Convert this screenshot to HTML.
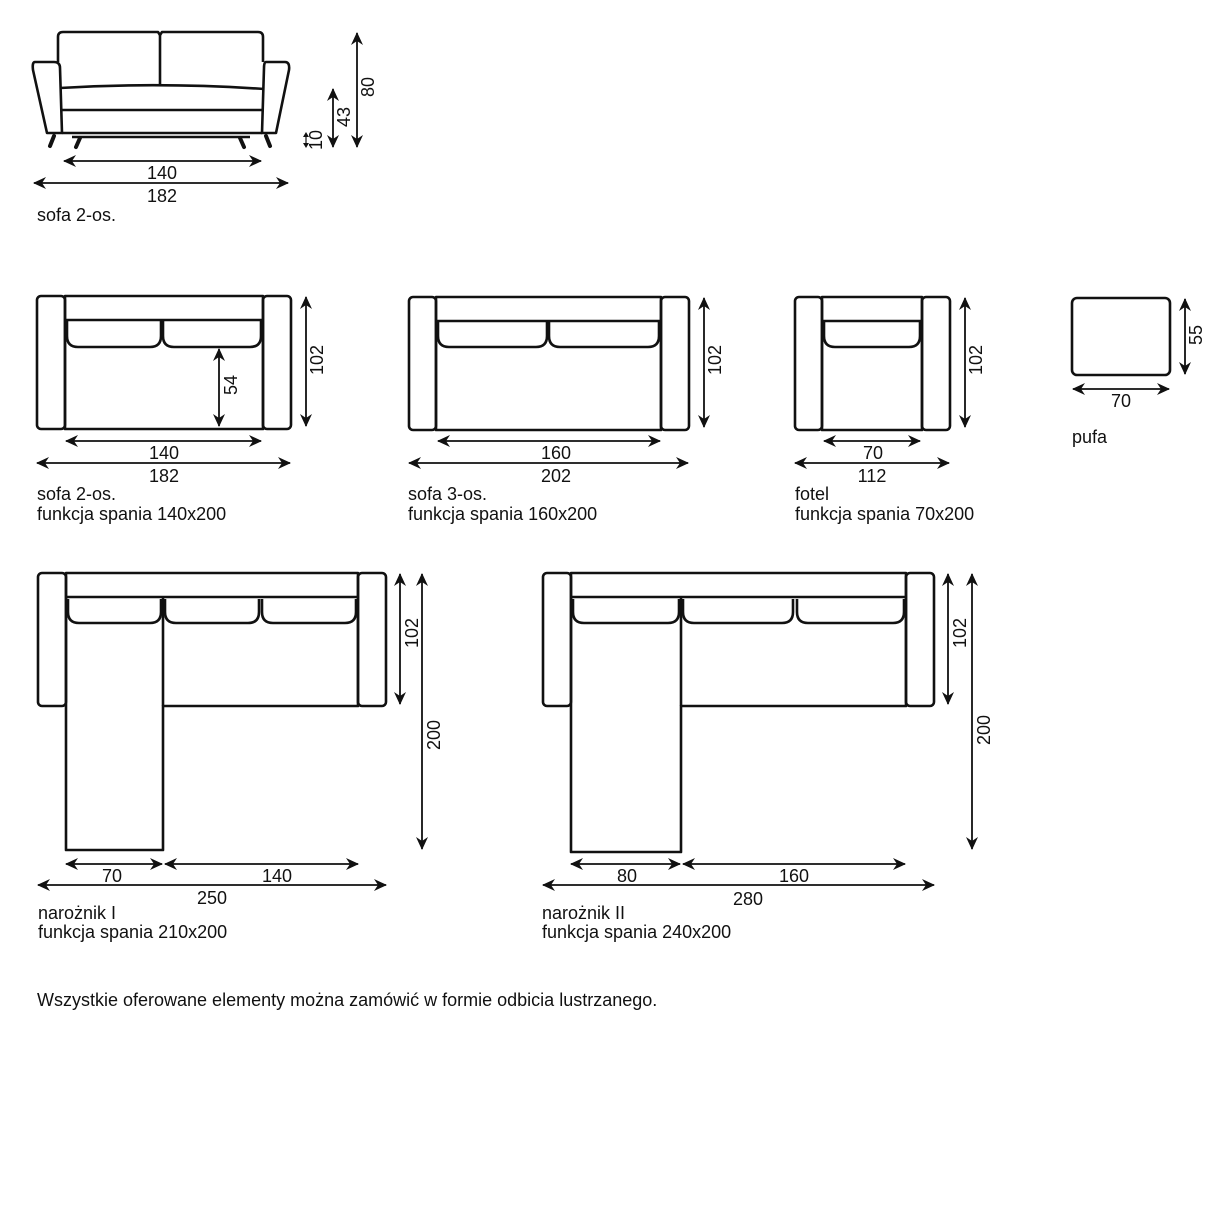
<!DOCTYPE html>
<html><head><meta charset="utf-8"><style>
html,body{margin:0;padding:0;background:#fff;}
svg{display:block}
text{font-family:"Liberation Sans",sans-serif;font-size:18px;fill:#111;letter-spacing:0px}
.s{fill:none;stroke:#111;stroke-width:2.6;stroke-linejoin:round}
.d{fill:none;stroke:#111;stroke-width:1.8;marker-start:url(#a);marker-end:url(#a)}
.l{stroke:#111;stroke-width:4;stroke-linecap:round}
</style></head><body>
<svg width="1224" height="1224" viewBox="0 0 1224 1224" xmlns="http://www.w3.org/2000/svg">
<defs><marker id="a" markerUnits="userSpaceOnUse" markerWidth="14" markerHeight="12" refX="12" refY="6" orient="auto-start-reverse"><path d="M0,0 L13,6 L0,12 L4,6 z" fill="#111"/></marker></defs>

<!-- Front sofa -->
<path class="s" d="M58,62 L58,37 Q58,32 63,32 L158,32 L160,35 L162,32 L258,32 Q263,32 263,37 L263,62"/>
<line class="s" x1="160" y1="35" x2="160" y2="85"/>
<path class="s" d="M35,62 L54,62 Q60,62 60,68 L62,133 L47,133 L33,70 Q32,62 35,62 Z"/>
<path class="s" d="M266,62 L285,62 Q290,62 289,70 L276,133 L262,133 L264,68 Q264,62 266,62 Z"/>
<path class="s" d="M60,88 Q160,82 264,89"/>
<line class="s" x1="60" y1="110" x2="264" y2="110"/>
<line class="s" x1="62" y1="133" x2="262" y2="133"/>
<line class="s" x1="72" y1="137" x2="250" y2="137"/>
<line class="l" x1="54" y1="136" x2="50" y2="146"/>
<line class="l" x1="80" y1="138" x2="76" y2="147"/>
<line class="l" x1="240" y1="138" x2="244" y2="147"/>
<line class="l" x1="266" y1="136" x2="270" y2="146"/>
<line class="d" x1="64" y1="161" x2="261" y2="161"/>
<text x="162" y="179" text-anchor="middle">140</text>
<line class="d" x1="34" y1="183" x2="288" y2="183"/>
<text x="162" y="202" text-anchor="middle">182</text>
<text x="37" y="221">sofa 2-os.</text>
<line class="d" x1="357" y1="33" x2="357" y2="147"/>
<text transform="translate(374,87) rotate(-90)" text-anchor="middle">80</text>
<line class="d" x1="333" y1="89" x2="333" y2="147"/>
<text transform="translate(350,117) rotate(-90)" text-anchor="middle">43</text>
<line stroke="#111" stroke-width="1.2" x1="306" y1="134" x2="306" y2="146"/>
<path d="M303,137 L306,132 L309,137 Z M303,143 L306,148 L309,143 Z" fill="#111"/>
<text transform="translate(322,140) rotate(-90)" text-anchor="middle">10</text>

<!-- sofa 2 top -->
<rect class="s" x="37" y="296" width="28" height="133" rx="4"/>
<rect class="s" x="263" y="296" width="28" height="133" rx="4"/>
<rect class="s" x="65" y="296" width="198" height="133"/>
<line class="s" x1="65" y1="320" x2="263" y2="320"/>
<path class="s" d="M67,320 L67,336 Q67,347 78,347 L150,347 Q161,347 161,336 L161,320"/>
<path class="s" d="M163,320 L163,336 Q163,347 174,347 L250,347 Q261,347 261,336 L261,320"/>
<line class="d" x1="219" y1="349" x2="219" y2="426"/>
<text transform="translate(237,385) rotate(-90)" text-anchor="middle">54</text>
<line class="d" x1="306" y1="297" x2="306" y2="426"/>
<text transform="translate(323,360) rotate(-90)" text-anchor="middle">102</text>
<line class="d" x1="66" y1="441" x2="261" y2="441"/>
<text x="164" y="459" text-anchor="middle">140</text>
<line class="d" x1="37" y1="463" x2="290" y2="463"/>
<text x="164" y="482" text-anchor="middle">182</text>
<text x="37" y="500">sofa 2-os.</text>
<text x="37" y="520">funkcja spania 140x200</text>

<!-- sofa 3 -->
<rect class="s" x="409" y="297" width="27" height="133" rx="4"/>
<rect class="s" x="661" y="297" width="28" height="133" rx="4"/>
<rect class="s" x="436" y="297" width="225" height="133"/>
<line class="s" x1="436" y1="321" x2="661" y2="321"/>
<path class="s" d="M438,321 L438,336 Q438,347 449,347 L536,347 Q547,347 547,336 L547,321"/>
<path class="s" d="M549,321 L549,336 Q549,347 560,347 L648,347 Q659,347 659,336 L659,321"/>
<line class="d" x1="704" y1="298" x2="704" y2="427"/>
<text transform="translate(721,360) rotate(-90)" text-anchor="middle">102</text>
<line class="d" x1="438" y1="441" x2="660" y2="441"/>
<text x="556" y="459" text-anchor="middle">160</text>
<line class="d" x1="409" y1="463" x2="688" y2="463"/>
<text x="556" y="482" text-anchor="middle">202</text>
<text x="408" y="500">sofa 3-os.</text>
<text x="408" y="520">funkcja spania 160x200</text>

<!-- fotel -->
<rect class="s" x="795" y="297" width="27" height="133" rx="4"/>
<rect class="s" x="922" y="297" width="28" height="133" rx="4"/>
<rect class="s" x="822" y="297" width="100" height="133"/>
<line class="s" x1="822" y1="321" x2="922" y2="321"/>
<path class="s" d="M824,321 L824,336 Q824,347 835,347 L909,347 Q920,347 920,336 L920,321"/>
<line class="d" x1="965" y1="298" x2="965" y2="427"/>
<text transform="translate(982,360) rotate(-90)" text-anchor="middle">102</text>
<line class="d" x1="824" y1="441" x2="920" y2="441"/>
<text x="873" y="459" text-anchor="middle">70</text>
<line class="d" x1="795" y1="463" x2="949" y2="463"/>
<text x="872" y="482" text-anchor="middle">112</text>
<text x="795" y="500">fotel</text>
<text x="795" y="520">funkcja spania 70x200</text>

<!-- pufa -->
<rect class="s" x="1072" y="298" width="98" height="77" rx="5"/>
<line class="d" x1="1185" y1="299" x2="1185" y2="374"/>
<text transform="translate(1202,335) rotate(-90)" text-anchor="middle">55</text>
<line class="d" x1="1073" y1="389" x2="1169" y2="389"/>
<text x="1121" y="407" text-anchor="middle">70</text>
<text x="1072" y="443">pufa</text>

<!-- narożnik I -->
<rect class="s" x="38" y="573" width="28" height="133" rx="4"/>
<rect class="s" x="358" y="573" width="28" height="133" rx="4"/>
<path class="s" d="M66,573 L358,573 L358,706 L163,706 L163,850 L66,850 Z"/>
<line class="s" x1="66" y1="597" x2="358" y2="597"/>
<line class="s" x1="163" y1="597" x2="163" y2="706"/>
<path class="s" d="M68,599 L68,612 Q68,623 79,623 L150,623 Q161,623 161,612 L161,599"/>
<path class="s" d="M165,599 L165,612 Q165,623 176,623 L248,623 Q259,623 259,612 L259,599"/>
<path class="s" d="M262,599 L262,612 Q262,623 273,623 L345,623 Q356,623 356,612 L356,599"/>
<line class="d" x1="400" y1="574" x2="400" y2="704"/>
<text transform="translate(418,633) rotate(-90)" text-anchor="middle">102</text>
<line class="d" x1="422" y1="574" x2="422" y2="849"/>
<text transform="translate(440,735) rotate(-90)" text-anchor="middle">200</text>
<line class="d" x1="66" y1="864" x2="162" y2="864"/>
<line class="d" x1="165" y1="864" x2="358" y2="864"/>
<text x="112" y="882" text-anchor="middle">70</text>
<text x="277" y="882" text-anchor="middle">140</text>
<line class="d" x1="38" y1="885" x2="386" y2="885"/>
<text x="212" y="904" text-anchor="middle">250</text>
<text x="38" y="919">narożnik I</text>
<text x="38" y="938">funkcja spania 210x200</text>

<!-- narożnik II -->
<rect class="s" x="543" y="573" width="28" height="133" rx="4"/>
<rect class="s" x="906" y="573" width="28" height="133" rx="4"/>
<path class="s" d="M571,573 L906,573 L906,706 L681,706 L681,852 L571,852 Z"/>
<line class="s" x1="571" y1="597" x2="906" y2="597"/>
<line class="s" x1="681" y1="597" x2="681" y2="706"/>
<path class="s" d="M573,599 L573,612 Q573,623 584,623 L668,623 Q679,623 679,612 L679,599"/>
<path class="s" d="M683,599 L683,612 Q683,623 694,623 L782,623 Q793,623 793,612 L793,599"/>
<path class="s" d="M797,599 L797,612 Q797,623 808,623 L893,623 Q904,623 904,612 L904,599"/>
<line class="d" x1="948" y1="574" x2="948" y2="704"/>
<text transform="translate(966,633) rotate(-90)" text-anchor="middle">102</text>
<line class="d" x1="972" y1="574" x2="972" y2="849"/>
<text transform="translate(990,730) rotate(-90)" text-anchor="middle">200</text>
<line class="d" x1="571" y1="864" x2="680" y2="864"/>
<line class="d" x1="683" y1="864" x2="905" y2="864"/>
<text x="627" y="882" text-anchor="middle">80</text>
<text x="794" y="882" text-anchor="middle">160</text>
<line class="d" x1="543" y1="885" x2="934" y2="885"/>
<text x="748" y="905" text-anchor="middle">280</text>
<text x="542" y="919">narożnik II</text>
<text x="542" y="938">funkcja spania 240x200</text>

<text x="37" y="1006">Wszystkie oferowane elementy można zamówić w formie odbicia lustrzanego.</text>
</svg>
</body></html>
